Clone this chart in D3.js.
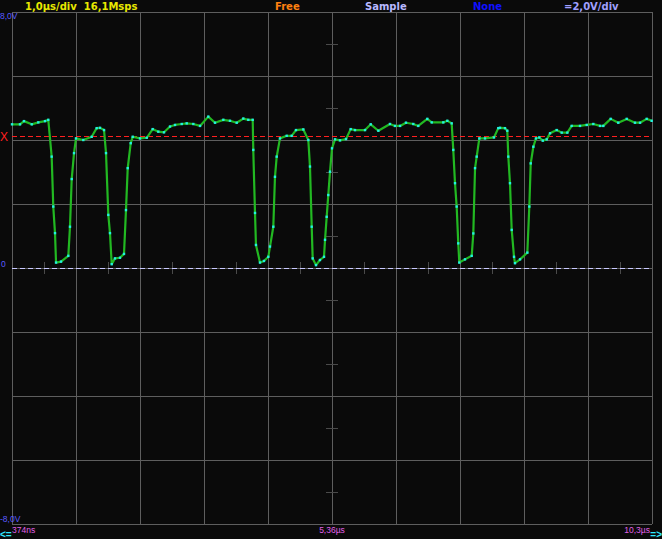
<!DOCTYPE html>
<html><head><meta charset="utf-8">
<script src="https://cdn.jsdelivr.net/npm/d3@7"></script>
<style>
html,body{margin:0;padding:0;background:#0a0a0a;overflow:hidden}
svg{display:block}
text{white-space:pre}
</style></head>
<body>
<svg id="c" width="662" height="539"></svg>
<script>
// ---- data (time in µs, voltage in V) ----
const times = [0.374,0.499,0.561,0.682,0.785,0.890,0.941,0.994,1.019,1.046,1.062,1.140,1.254,1.280,1.307,1.343,1.374,1.488,1.619,1.697,1.749,1.812,1.843,1.879,1.905,1.932,1.983,2.061,2.124,2.155,2.182,2.229,2.260,2.374,2.479,2.572,2.660,2.749,2.843,2.921,3.026,3.104,3.207,3.312,3.441,3.546,3.676,3.780,3.885,3.988,4.066,4.135,4.144,4.171,4.186,4.249,4.311,4.379,4.405,4.457,4.483,4.510,4.561,4.666,4.744,4.811,4.926,5.004,5.030,5.057,5.072,5.124,5.186,5.249,5.265,5.291,5.316,5.343,5.374,5.421,5.499,5.593,5.666,5.733,5.890,5.979,6.098,6.280,6.358,6.437,6.530,6.644,6.722,6.863,6.932,7.113,7.176,7.244,7.269,7.296,7.322,7.347,7.363,7.452,7.557,7.582,7.609,7.635,7.676,7.765,7.905,7.972,7.999,8.077,8.113,8.129,8.155,8.182,8.218,8.233,8.312,8.426,8.457,8.479,8.520,8.561,8.613,8.667,8.729,8.781,8.885,8.963,9.051,9.119,9.249,9.354,9.457,9.562,9.613,9.729,9.847,9.979,10.108,10.187,10.291,10.369];
const volts = [4.49,4.49,4.59,4.49,4.55,4.59,4.63,3.48,1.92,1.09,0.17,0.20,0.38,1.29,2.78,3.59,4.05,4.00,4.10,4.37,4.38,4.31,3.59,1.66,1.09,0.12,0.30,0.32,0.44,1.81,3.12,3.90,4.10,4.05,4.07,4.34,4.26,4.24,4.42,4.47,4.50,4.52,4.50,4.44,4.73,4.54,4.63,4.60,4.54,4.67,4.63,4.63,3.69,1.72,0.72,0.17,0.22,0.35,0.67,1.29,2.85,3.48,4.05,4.13,4.13,4.31,4.33,4.00,3.17,1.29,0.30,0.09,0.25,0.35,0.88,1.60,2.28,3.01,3.74,4.02,3.99,4.03,4.34,4.31,4.31,4.49,4.29,4.50,4.44,4.44,4.54,4.50,4.44,4.66,4.55,4.55,4.60,4.52,3.69,2.65,1.92,0.77,0.17,0.27,0.38,1.08,3.12,3.48,4.05,4.05,4.08,4.37,4.38,4.37,4.29,3.48,2.65,1.19,0.35,0.15,0.27,0.48,1.92,3.27,3.79,4.05,4.08,3.98,4.02,4.21,4.31,4.23,4.23,4.44,4.44,4.47,4.50,4.44,4.44,4.66,4.54,4.66,4.54,4.54,4.66,4.60];
const timeDomain = [0.374, 10.374];
const voltDomain = [-8, 8];
const xDivisions = 10, yDivisions = 8;
const triggerLevel = 4.125;
const groundLevel = 0;
const topLabels = [
  {text:"1,0µs/div  16,1Msps", x:25, color:"#e8e800"},
  {text:"Free", x:275, color:"#ff8010"},
  {text:"Sample", x:365, color:"#b8b8ff"},
  {text:"None", x:473, color:"#1010ff"},
  {text:"=2,0V/div", x:564, color:"#a0a0ff"}
];
const voltLabels = ["8,0V", "0", "-8,0V"];
const timeLabels = ["374ns", "5,36µs", "10,3µs"];

// ---- layout ----
const L = 12, R = 652, T = 12, B = 524;
const svg = d3.select("#c");
const x = d3.scaleLinear().domain(timeDomain).range([L, R]);
const y = d3.scaleLinear().domain(voltDomain).range([B, T]);

svg.append("rect").attr("width",662).attr("height",539).attr("fill","#0a0a0a");

// grid
const divT = (timeDomain[1]-timeDomain[0])/xDivisions;
const divV = (voltDomain[1]-voltDomain[0])/yDivisions;
const xg = d3.range(xDivisions+1).map(i => timeDomain[0]+i*divT);
const yg = d3.range(yDivisions+1).map(i => voltDomain[0]+i*divV);
const g = svg.append("g").attr("stroke","#5e5e5e").attr("stroke-width",1).attr("shape-rendering","crispEdges");
xg.forEach(t => g.append("line").attr("x1",Math.round(x(t))+0.5).attr("x2",Math.round(x(t))+0.5).attr("y1",T).attr("y2",B));
yg.forEach(v => g.append("line").attr("y1",Math.round(y(v))+0.5).attr("y2",Math.round(y(v))+0.5).attr("x1",L).attr("x2",R));

// minor ticks at half divisions on centre axes
const tk = svg.append("g").attr("stroke","#4a4a4a").attr("stroke-width",1).attr("shape-rendering","crispEdges");
const xc = x((timeDomain[0]+timeDomain[1])/2), yc = y(0);
d3.range(xDivisions).forEach(i => {
  const px = Math.round(x(timeDomain[0]+(i+0.5)*divT))+0.5;
  tk.append("line").attr("x1",px).attr("x2",px).attr("y1",yc-6).attr("y2",yc+6);
});
d3.range(yDivisions).forEach(i => {
  const py = Math.round(y(voltDomain[0]+(i+0.5)*divV))+0.5;
  tk.append("line").attr("y1",py).attr("y2",py).attr("x1",xc-6).attr("x2",xc+6);
});

// trigger level (red dashed) and ground (lavender dashed)
svg.append("line").attr("x1",L).attr("x2",R).attr("y1",Math.round(y(triggerLevel))+0.5).attr("y2",Math.round(y(triggerLevel))+0.5)
  .attr("stroke","#ff2020").attr("stroke-width",1.3).attr("stroke-dasharray","5,3").attr("shape-rendering","crispEdges");
svg.append("line").attr("x1",L).attr("x2",R).attr("y1",Math.round(y(groundLevel))+0.5).attr("y2",Math.round(y(groundLevel))+0.5)
  .attr("stroke","#c8c8ff").attr("stroke-width",1.3).attr("stroke-dasharray","5,3").attr("shape-rendering","crispEdges");

// waveform
const pts = times.map((t,i) => [t, volts[i]]);
svg.append("path").datum(pts)
  .attr("d", d3.line().x(d => x(d[0])).y(d => y(d[1])))
  .attr("fill","none").attr("stroke","#22b822").attr("stroke-width",2.2).attr("stroke-linejoin","round");
svg.append("g").selectAll("rect").data(pts).join("rect")
  .attr("x", d => x(d[0])-1.2).attr("y", d => y(d[1])-1.2).attr("width",2.4).attr("height",2.4)
  .attr("fill","#22f0e0");

// text
const fontBold = "'DejaVu Sans', Verdana, sans-serif";
svg.append("g").selectAll("text").data(topLabels).join("text")
  .attr("x", d => d.x).attr("y", 10).attr("fill", d => d.color)
  .attr("font-family", fontBold).attr("font-weight","bold").attr("font-size","10px")
  .text(d => d.text);

const small = "'Liberation Sans', Arial, sans-serif";
svg.append("text").attr("x",0).attr("y",T+7).attr("fill","#5a5aff").attr("font-family",small).attr("font-size","8.5px").text(voltLabels[0]);
svg.append("text").attr("x",1).attr("y",y(0)-1).attr("fill","#5a5aff").attr("font-family",small).attr("font-size","8.5px").text(voltLabels[1]);
svg.append("text").attr("x",0).attr("y",B-2).attr("fill","#5a5aff").attr("font-family",small).attr("font-size","8.5px").text(voltLabels[2]);
svg.append("text").attr("x",0).attr("y",y(triggerLevel)+5).attr("fill","#ff2020").attr("font-family",small).attr("font-size","12px").text("X");

svg.append("text").attr("x",L).attr("y",B+9).attr("fill","#e060e8").attr("font-family",small).attr("font-size","8.5px").text(timeLabels[0]);
svg.append("text").attr("x",xc).attr("y",B+9).attr("text-anchor","middle").attr("fill","#e060e8").attr("font-family",small).attr("font-size","8.5px").text(timeLabels[1]);
svg.append("text").attr("x",R-2).attr("y",B+9).attr("text-anchor","end").attr("fill","#e060e8").attr("font-family",small).attr("font-size","8.5px").text(timeLabels[2]);
svg.append("text").attr("x",0).attr("y",B+14).attr("fill","#30e8ff").attr("font-family",small).attr("font-size","10px").attr("font-weight","bold").text("<=");
svg.append("text").attr("x",662).attr("y",B+14).attr("text-anchor","end").attr("fill","#30e8ff").attr("font-family",small).attr("font-size","10px").attr("font-weight","bold").text("=>");
</script>
</body></html>
